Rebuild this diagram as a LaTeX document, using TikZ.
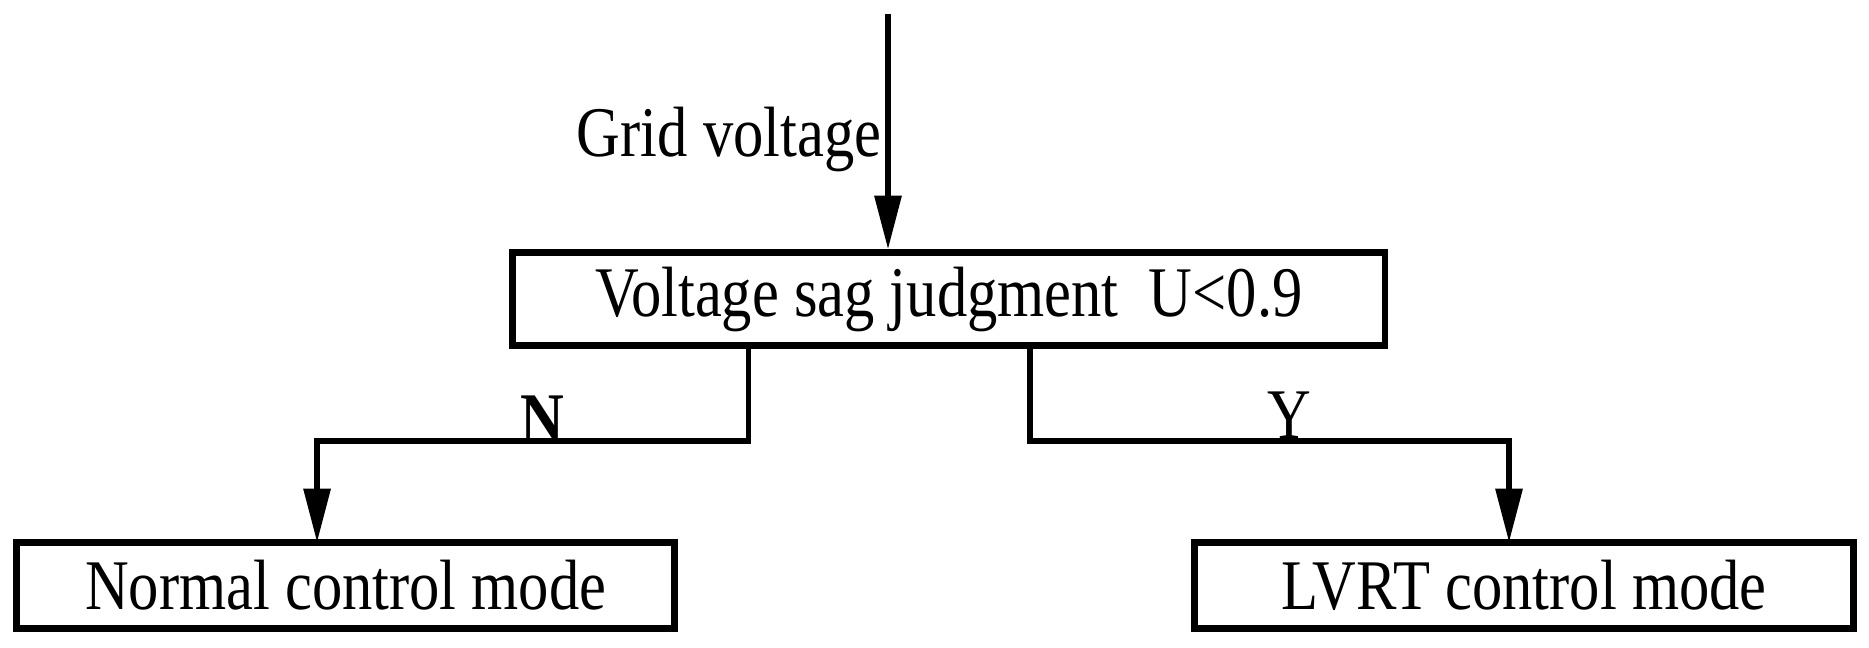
\documentclass[tikz,border=0pt]{standalone}
\usepackage{fontspec}
\setmainfont{Liberation Serif}
\usetikzlibrary{arrows.meta}
\begin{document}
\begin{tikzpicture}[x=0.1mm,y=-0.1mm,
  box/.style={draw,line width=1.6pt,inner sep=0pt},
  conn/.style={line width=1.3pt,-{Triangle[length=4.5mm,width=2.2mm]}},
  line/.style={line width=1.3pt},
  txt/.style={font=\fontsize{17}{20}\selectfont,inner sep=0pt}]
\useasboundingbox (0,0) rectangle (1568,543);
\node[box,minimum width=73.2mm,minimum height=7.8mm] (j) at (796,251) {};
\node[txt] at (j.center) {\scalebox{0.85}[1]{Voltage sag judgment\ \ U<0.9}};
\node[box,minimum width=55.2mm,minimum height=7.2mm] (n) at (290,491) {};
\node[txt] at (n.center) {\scalebox{0.85}[1]{Normal control mode}};
\node[box,minimum width=55.3mm,minimum height=7.2mm] (l) at (1278.5,491) {};
\node[txt] at (l.center) {\scalebox{0.85}[1]{LVRT control mode}};
\coordinate (top) at (745,12);
\draw[conn] (top) -- (top|-j.north);
\node[txt,anchor=east] (g) at (740,117) {\scalebox{0.85}[1]{Grid voltage}};
\coordinate (a) at (628,290);
\coordinate (b) at (864,290);
\draw[conn] (a) -- (628,370) -- (266,370) -- (266,455);
\draw[conn] (b) -- (864,370) -- (1266,370) -- (1266,455);
\node[txt,font=\fontsize{17}{20}\bfseries] (N) at (455,352) {\scalebox{0.85}[1]{N}};
\node[txt] (Y) at (1082,348) {\scalebox{0.85}[1]{Y}};
\end{tikzpicture}
\end{document}
